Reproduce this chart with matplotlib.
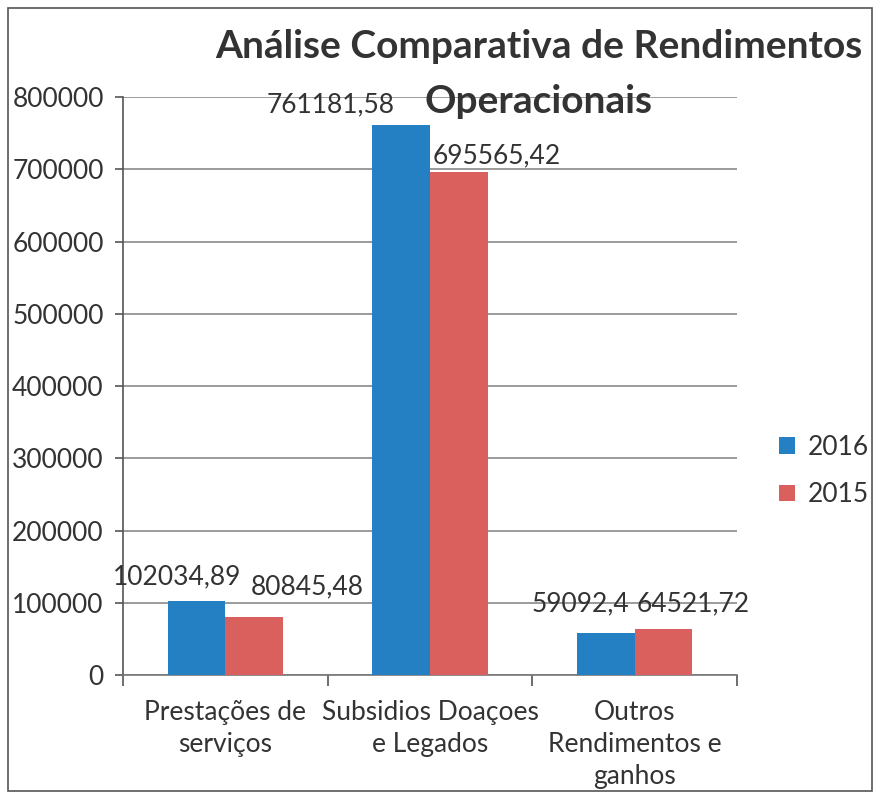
#importing libraries
import numpy as np
from matplotlib import pyplot as plt
from matplotlib.patches import Rectangle

###########################################################
#data
categorias = ["Prestações de\nserviços", "Subsidios Doaçoes\ne Legados", "Outros\nRendimentos e\nganhos"]
anos = ["2016", "2015"]
valores_2016 = [102034.89, 761181.58, 59092.4]
valores_2015 = [80845.48, 695565.42, 64521.72]
rotulos_2016 = ["102034,89", "761181,58", "59092,4"]
rotulos_2015 = ["80845,48", "695565,42", "64521,72"]
yticks = [0, 100000, 200000, 300000, 400000, 500000, 600000, 700000, 800000]

#label offsets (pixels) as placed by hand in the original
off_2016 = [(-19, 25), (-70, 20), (-25, 29)]
off_2015 = [(53, 30), (38, 17), (30, 25)]

azul = "#2580c3"
vermelho = "#d9605d"
##############################################################
plt.rcParams['font.family'] = ['Lato', 'DejaVu Sans']
fig = plt.figure(figsize=(8.74, 8.01), dpi=100)
ax = fig.add_axes([0.141, 0.157, 0.702, 0.722])

x = np.arange(len(categorias))
w = 0.283
b1 = ax.bar(x - w/2, valores_2016, w, color=azul, label=anos[0], zorder=3)
b2 = ax.bar(x + w/2, valores_2015, w, color=vermelho, label=anos[1], zorder=3)

for bars, rot, offs in [(b1, rotulos_2016, off_2016), (b2, rotulos_2015, off_2015)]:
    for r, t, (dx, dy) in zip(bars, rot, offs):
        ax.annotate(t, (r.get_x() + r.get_width()/2, r.get_height()),
                    xytext=(dx, dy), textcoords='offset pixels',
                    ha='center', va='center', fontsize=19, color='#333333', zorder=4)

ax.set_xlim(-0.5, 2.5)
ax.set_ylim(0, 800000)
ax.set_yticks(yticks)
ax.set_yticklabels([str(v) for v in yticks], fontsize=19, color='#333333')
ax.yaxis.grid(True, color='#8a8a8a', linewidth=1.2, zorder=0)

ax.set_xticks(x)
ax.set_xticklabels(categorias, fontsize=19, color='#333333', linespacing=1.35)
ax.tick_params(axis='x', which='major', length=0, pad=18)
ax.set_xticks([-0.5, 0.5, 1.5, 2.5], minor=True)
ax.tick_params(axis='x', which='minor', length=8, width=1.2, color='#555555')
ax.tick_params(axis='y', length=6, width=1.2, color='#555555', pad=8)

for s in ['top', 'right']:
    ax.spines[s].set_visible(False)
ax.spines['left'].set_color('#555555')
ax.spines['bottom'].set_color('#777777')
ax.spines['left'].set_linewidth(1.2)
ax.spines['bottom'].set_linewidth(1.2)

fig.text(0.616, 0.942, "Análise Comparativa de Rendimentos", ha='center', va='center',
         fontsize=28, fontweight='bold', color='#333333')
fig.text(0.616, 0.873, "Operacionais", ha='center', va='center',
         fontsize=28, fontweight='bold', color='#333333')

ax.legend(loc='center left', bbox_to_anchor=(1.03, 0.353), frameon=False, fontsize=19,
          handlelength=0.6, handleheight=0.6, labelspacing=0.85, handletextpad=0.5,
          labelcolor='#333333')

#outer frame
fig.patches.append(Rectangle((0.009, 0.013), 0.989, 0.977, transform=fig.transFigure,
                             fill=False, edgecolor='#555555', linewidth=1.2))

fig.savefig("out.png", dpi=100)
